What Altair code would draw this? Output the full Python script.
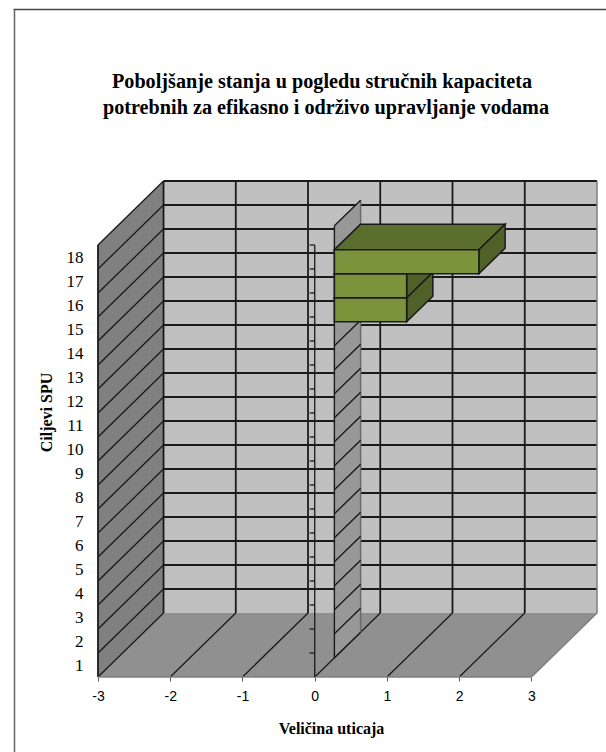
import altair as alt
import pandas as pd

# Chart content
title_lines = [
    "Poboljšanje stanja u pogledu stručnih kapaciteta",
    "potrebnih za efikasno i održivo upravljanje vodama",
]
x_title = "Veličina uticaja"
y_title = "Ciljevi SPU"
categories = list(range(1, 19))
bar_categories = [15, 16, 17]
bar_values = [1, 1, 2]
x_ticks = [-3, -2, -1, 0, 1, 2, 3]

# Oblique 3D projection: one unit of depth shifts right and up, in data units
DEPTH_X = 0.907
DEPTH_Y = 2.667
BAR_NEAR = 0.3
BAR_FAR = 0.7
X_MIN, X_MAX = -3, 3
ROWS = len(categories)

WALL_BACK = "#c0c0c0"
WALL_LEFT = "#808080"
FLOOR = "#909090"
ZERO_WALL = "#989898"
BAR_FRONT = "#7b943c"
BAR_TOP = "#5a6e2d"
BAR_SIDE = "#4f6128"
LINE = "#1a1a1a"

# Margins of the plot area inside the page
LEFT = 98
TOP = 181


def px(value, depth):
    return value + DEPTH_X * depth


def py(row, depth):
    return row + DEPTH_Y * depth


# Category labels sit at the centre of each row on the front edge
row_centres = [c - 0.5 for c in categories]

x_enc = alt.X(
    "x:Q",
    scale=alt.Scale(domain=[X_MIN, X_MAX + DEPTH_X], nice=False, zero=False),
    axis=alt.Axis(
        title=x_title, values=x_ticks, labelExpr="'' + datum.value", grid=False,
        domain=False, tickColor="#555555", tickSize=4, labelFont="Liberation Sans",
        labelFontSize=14, labelColor="#000000", labelPadding=8, labelFlush=False,
        labelOverlap=False,
        titleFont="Liberation Serif", titleFontSize=16, titleFontWeight="bold",
        titleColor="#000000", titleX=233, titleY=43,
    ),
)
y_enc = alt.Y(
    "y:Q",
    scale=alt.Scale(domain=[0, ROWS + DEPTH_Y], nice=False, zero=False),
    axis=alt.Axis(
        title=y_title, values=row_centres, labelExpr="datum.value + 0.5",
        grid=False, domain=False, ticks=False, labelFont="Liberation Serif",
        labelFontSize=17, labelColor="#000000", labelPadding=15, labelOverlap=False,
        titleFont="Liberation Serif", titleFontSize=16, titleFontWeight="bold",
        titleColor="#000000", titleX=-44, titleY=231, titleAngle=270,
    ),
)


def upright_face(v0, d0, v1, d1, row0, row1, fill, stroke=LINE, width=1.5):
    """Quadrilateral whose two parallel edges are vertical."""
    df = pd.DataFrame({
        "x": [px(v0, d0), px(v1, d1)],
        "y": [py(row0, d0), py(row0, d1)],
        "y2": [py(row1, d0), py(row1, d1)],
    })
    return alt.Chart(df).mark_area(
        fill=fill, stroke=stroke, strokeWidth=width, opacity=1, orient="vertical"
    ).encode(x=x_enc, y=y_enc, y2="y2:Q")


def flat_face(v0, v1, d0, d1, row, fill, stroke=LINE, width=1.5):
    """Quadrilateral whose two parallel edges are horizontal."""
    df = pd.DataFrame({
        "x": [px(v0, d0), px(v0, d1)],
        "x2": [px(v1, d0), px(v1, d1)],
        "y": [py(row, d0), py(row, d1)],
    })
    return alt.Chart(df).mark_area(
        fill=fill, stroke=stroke, strokeWidth=width, opacity=1, orient="horizontal"
    ).encode(x=x_enc, x2="x2:Q", y=y_enc)


def segments(rows, color=LINE, width=1.8):
    df = pd.DataFrame(rows, columns=["x", "y", "x2", "y2"])
    return alt.Chart(df).mark_rule(color=color, strokeWidth=width).encode(
        x=x_enc, y=y_enc, x2="x2:Q", y2="y2:Q"
    )


layers = []

# Walls and floor
layers.append(upright_face(X_MIN, 1, X_MAX, 1, 0, ROWS, WALL_BACK, stroke="none"))
layers.append(upright_face(X_MIN, 0, X_MIN, 1, 0, ROWS, WALL_LEFT, stroke="none"))
layers.append(flat_face(X_MIN, X_MAX, 0, 1, 0, FLOOR, stroke="none"))

# Gridlines on back wall, left wall and floor
back_rows = [(px(X_MIN, 1), py(k, 1), px(X_MAX, 1), py(k, 1)) for k in range(1, ROWS + 1)]
back_cols = [(px(v, 1), py(0, 1), px(v, 1), py(ROWS, 1)) for v in x_ticks[:-1]]
left_rows = [(px(X_MIN, 0), py(k, 0), px(X_MIN, 1), py(k, 1)) for k in range(0, ROWS + 1)]
floor_cols = [(px(v, 0), py(0, 0), px(v, 1), py(0, 1)) for v in x_ticks[1:-1]]
left_edge = [(px(X_MIN, 0), py(0, 0), px(X_MIN, 0), py(ROWS, 0))]
layers.append(segments(back_rows + back_cols + left_edge))
layers.append(segments(left_rows + floor_cols, width=1.3))

# Light outer edges of the box
outer = [
    (px(X_MAX, 1), py(0, 1), px(X_MAX, 1), py(ROWS, 1)),
    (px(X_MAX, 0), py(0, 0), px(X_MAX, 1), py(0, 1)),
    (px(X_MIN, 0), py(0, 0), px(X_MAX, 0), py(0, 0)),
]
layers.append(segments(outer, color="#7f7f7f", width=1.5))

# Zero plane: the thin wall the bars grow from
layers.append(upright_face(0, BAR_NEAR, 0, BAR_FAR, 0, ROWS, ZERO_WALL, stroke="none"))
wall_rows = [(px(0, BAR_NEAR), py(k, BAR_NEAR), px(0, BAR_FAR), py(k, BAR_FAR)) for k in range(0, ROWS + 1)]
wall_front = [(px(0, BAR_NEAR), py(0, BAR_NEAR), px(0, BAR_NEAR), py(ROWS, BAR_NEAR))]
wall_back = [(px(0, BAR_FAR), py(0, BAR_FAR), px(0, BAR_FAR), py(ROWS, BAR_FAR))]
layers.append(segments(wall_back, color="#6a6a6a", width=1.5))
layers.append(segments(wall_rows + wall_front, width=1.4))

# Vertical value axis standing at zero, with its ticks
axis_line = [(px(0, 0), py(0, 0), px(0, 0), py(ROWS, 0))]
axis_ticks = [(-0.07, py(k, 0), 0, py(k, 0)) for k in range(1, ROWS + 1)]
layers.append(segments(axis_line + axis_ticks, width=1.3))

# Bars, stacked upward so each one hides the top of the bar below it
for cat, val in sorted(zip(bar_categories, bar_values)):
    base = cat - 1
    top = cat
    layers.append(flat_face(0, val, BAR_NEAR, BAR_FAR, top, BAR_TOP))
    layers.append(upright_face(val, BAR_NEAR, val, BAR_FAR, base, top, BAR_SIDE))
    layers.append(upright_face(0, BAR_NEAR, val, BAR_NEAR, base, top, BAR_FRONT))

# Page frame around the chart
frame_top = alt.Chart(pd.DataFrame({"a": [0]})).mark_rule(color="#444444", strokeWidth=1.5).encode(
    x=alt.value(13.5 - LEFT), x2=alt.value(606 - LEFT), y=alt.value(9.5 - TOP)
)
frame_left = alt.Chart(pd.DataFrame({"a": [0]})).mark_rule(color="#666666", strokeWidth=1.5).encode(
    x=alt.value(14.5 - LEFT), y=alt.value(9.5 - TOP), y2=alt.value(752 - TOP)
)
layers += [frame_top, frame_left]

# Two-line heading above the plot
for line, centre_x, baseline_y in zip(title_lines, [322, 326], [88, 114]):
    layers.append(
        alt.Chart(pd.DataFrame({"t": [line]})).mark_text(
            font="Liberation Serif", fontSize=20.2, fontWeight="bold",
            color="#000000", align="center", baseline="alphabetic",
        ).encode(text="t:N", x=alt.value(centre_x - LEFT), y=alt.value(baseline_y - TOP))
    )

chart = alt.layer(*layers).resolve_scale(x="shared", y="shared").properties(
    width=499,
    height=496,
    padding={"left": LEFT, "top": TOP, "right": 9, "bottom": 75},
    autosize=alt.AutoSizeParams(type="none"),
    background="white",
).configure_view(stroke=None)

chart.save("out.html", embed_options={"renderer": "svg", "actions": False})
